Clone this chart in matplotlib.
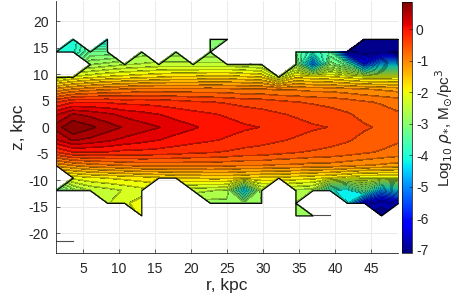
import numpy as np
import matplotlib
matplotlib.use("Agg")
import matplotlib.pyplot as plt
from matplotlib import cm, colors

N = np.nan

# bin centres: 21 bins over r = 0..50 kpc and z = -25..25 kpc
r_edges = np.linspace(0, 50, 22)
z_edges = np.linspace(-25, 25, 22)
r_kpc = 0.5 * (r_edges[:-1] + r_edges[1:])
z_kpc = 0.5 * (z_edges[:-1] + z_edges[1:])

# log10 stellar density, one row per z bin, from the top (z = +23.8) down to the bottom (z = -23.8)
log_rho_rows = [
    [N] * 21,
    [N] * 21,
    [N] * 21,
    [N, -4.1, N, -4.3, N, N, N, N, N, -2.95, -3.0, N, N, N, N, N, N, N, -7.1, -7.1, -7.05],
    [-4.0, -4.0, -3.3, -3.3, N, -2.85, N, -2.85, N, -2.9, N, N, N, N, -3.3, -3.9, -3.5, -6.9, -7.0, -7.05, -7.0],
    [N, N, -2.75, -2.65, -2.55, -2.5, -2.45, -2.45, -2.45, -2.45, -2.45, -2.5, -2.55, N, -2.8, -5.3, -3.0, -3.4, -6.0, -4.8, -4.5],
    [-2.3, -2.1, -2.0, -1.9, -1.85, -1.8, -1.75, -1.7, -1.7, -1.65, -1.65, -1.7, -1.75, -2.3, -1.8, -1.85, -1.9, -2.0, -2.1, -2.1, -2.1],
    [-1.25, -1.1, -1.0, -0.95, -0.9, -0.85, -0.85, -0.85, -0.85, -0.85, -0.87, -0.9, -0.9, -0.95, -0.95, -1.0, -1.0, -1.05, -1.1, -1.15, -1.2],
    [-0.35, -0.15, -0.15, -0.15, -0.2, -0.2, -0.22, -0.25, -0.3, -0.32, -0.35, -0.4, -0.42, -0.47, -0.52, -0.55, -0.58, -0.63, -0.7, -0.75, -0.8],
    [0.25, 0.5, 0.42, 0.32, 0.22, 0.15, 0.08, 0.0, -0.05, -0.1, -0.15, -0.2, -0.25, -0.3, -0.35, -0.4, -0.45, -0.5, -0.58, -0.62, -0.7],
    [0.55, 0.87, 0.72, 0.57, 0.45, 0.36, 0.28, 0.18, 0.1, 0.02, -0.05, -0.1, -0.13, -0.2, -0.25, -0.3, -0.33, -0.42, -0.5, -0.55, -0.65],
    [0.25, 0.5, 0.42, 0.32, 0.22, 0.15, 0.08, 0.0, -0.05, -0.1, -0.15, -0.2, -0.25, -0.3, -0.35, -0.4, -0.45, -0.5, -0.58, -0.62, -0.7],
    [-0.35, -0.15, -0.15, -0.15, -0.2, -0.2, -0.22, -0.25, -0.3, -0.32, -0.35, -0.4, -0.42, -0.47, -0.52, -0.55, -0.58, -0.63, -0.7, -0.75, -0.8],
    [-1.25, -1.1, -1.0, -0.95, -0.9, -0.85, -0.85, -0.85, -0.85, -0.85, -0.87, -0.9, -0.9, -0.95, -0.95, -1.0, -1.0, -1.05, -1.1, -1.15, -1.2],
    [N, -2.05, -1.95, -1.9, -1.85, -1.8, -1.75, -1.7, -1.7, -1.65, -1.65, -1.7, -1.75, -1.75, -1.8, -1.85, -1.9, -2.0, -2.1, -2.1, -2.1],
    [-3.4, -2.8, -2.5, -2.4, -2.3, -2.2, N, N, -2.45, -2.5, -2.55, -4.6, -2.55, N, -2.55, -2.6, -4.05, -4.3, -3.3, -5.0, -4.4],
    [N, N, N, -2.35, -2.15, -2.05, N, N, N, -2.8, -2.8, -2.9, -2.8, N, -2.75, N, N, -4.1, -6.6, -6.8, -6.6],
    [N, N, N, N, N, -2.1, N, N, N, N, N, N, N, N, -2.85, -2.85, -2.85, N, N, -7.1, N],
    [N] * 21,
    [-3.0, -3.0] + [N] * 19,
    [N] * 21,
]

cbar_ticks = list(range(-7, 1))
x_ticks = list(range(5, 50, 5))
y_ticks = list(range(-20, 25, 5))

plt.rcParams["font.family"] = ["Liberation Sans", "DejaVu Sans"]
plt.rcParams["axes.unicode_minus"] = False

log_rho = np.array(log_rho_rows[::-1], dtype=float)
valid = ~np.isnan(log_rho)
vmin, vmax = np.nanmin(log_rho), np.nanmax(log_rho)
norm = colors.Normalize(vmin=vmin, vmax=vmax)
levels = np.linspace(vmin, vmax, 41)

fig = plt.figure(figsize=(4.63, 3.03), dpi=100)
ax = fig.add_axes([0.1203, 0.164, 0.7400, 0.832])
cax = fig.add_axes([0.869, 0.165, 0.0203, 0.8285])

masked = np.ma.masked_invalid(log_rho)
cs = ax.contourf(r_kpc, z_kpc, masked, levels=levels, cmap="jet", norm=norm,
                 corner_mask=True, extend="both")
cs.set_edgecolor((0, 0, 0, 0.28))
cs.set_linewidth(0.45)

# outline of the region that has data
outline = ax.contourf(r_kpc, z_kpc, masked, levels=[vmin - 1, vmax + 1],
                      colors="none", corner_mask=True)
outline.set_edgecolor("k")
outline.set_linewidth(0.8)


# grid edges with data at both ends but not part of any filled cell
def cell_filled(i, j):
    if i < 0 or j < 0 or i + 1 >= valid.shape[0] or j + 1 >= valid.shape[1]:
        return False
    return valid[i:i + 2, j:j + 2].sum() >= 3


for i in range(valid.shape[0]):
    for j in range(valid.shape[1] - 1):
        if valid[i, j] and valid[i, j + 1] and not cell_filled(i - 1, j) and not cell_filled(i, j):
            ax.plot(r_kpc[j:j + 2], [z_kpc[i]] * 2, color="0.3", lw=0.8)

ax.set_xlim(r_kpc[0], r_kpc[-1])
ax.set_ylim(z_kpc[0], z_kpc[-1])
ax.set_xticks(x_ticks)
ax.set_yticks(y_ticks)
ax.grid(True, color="0.9", linewidth=0.6)
ax.set_axisbelow(True)
for side in ["top", "right"]:
    ax.spines[side].set_visible(False)
for side in ["left", "bottom"]:
    ax.spines[side].set_color("0.15")
    ax.spines[side].set_linewidth(0.6)
ax.tick_params(direction="in", length=3, width=0.5, color="0.15",
               labelcolor="0.15", labelsize=10)
ax.tick_params(axis="x", pad=6)
ax.tick_params(axis="y", pad=5)
ax.set_xlabel("r, kpc", fontsize=12.5, color="0.15", labelpad=2)
ax.set_ylabel("z, kpc", fontsize=12.5, color="0.15", labelpad=2)

cb = fig.colorbar(cm.ScalarMappable(norm=norm, cmap="jet"), cax=cax, ticks=cbar_ticks)
cb.outline.set_linewidth(0.5)
cb.ax.tick_params(direction="in", length=2, width=0.5, labelsize=10,
                  color="0.15", labelcolor="0.15", pad=3)
cb.set_label(r"Log$_{10}$ $\rho_{*}$, M$_{\odot}$/pc$^{3}$", fontsize=11,
             color="0.15", labelpad=4)

fig.savefig("out.png", dpi=100)
